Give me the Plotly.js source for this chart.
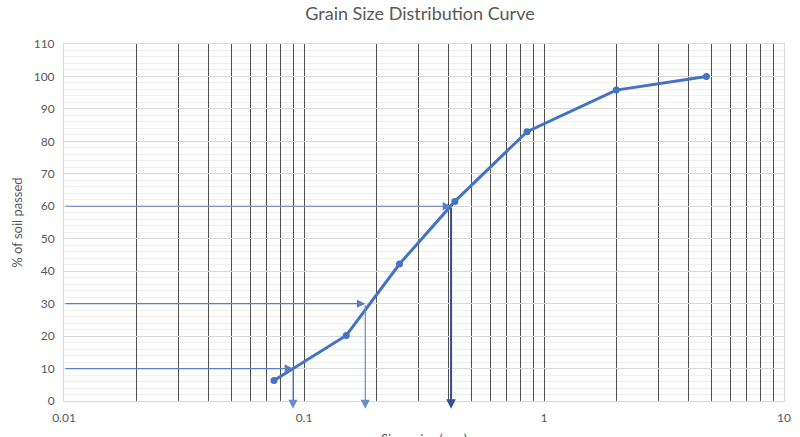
<!DOCTYPE html>
<html>
<head>
<meta charset="utf-8">
<script src="https://cdn.plot.ly/plotly-3.0.1.min.js"></script>
<style>html,body{margin:0;padding:0;background:#fff}#chart{width:800px;height:437px}</style>
</head>
<body>
<div id="chart"></div>
<script>
// Sieve sizes (mm) and % passing
const sieveSize = [0.075, 0.15, 0.25, 0.425, 0.85, 2, 4.75];
const percentPassed = [6.3, 20.2, 42.2, 61.5, 83, 95.8, 100];

// Characteristic diameters
const dLevels = [10, 30, 60];
const dValues = [0.09, 0.18, 0.41];
const dColors = ['#6a8cc8', '#6a8cc8', '#2f4f8f'];
const dWidths = [1.2, 1.2, 2];

// Axis ticks
const xGridVals = [0.01,0.02,0.03,0.04,0.05,0.06,0.07,0.08,0.09,0.1,0.2,0.3,0.4,0.5,0.6,0.7,0.8,0.9,1,2,3,4,5,6,7,8,9,10];
const xLabelMap = {0.01:'0.01', 0.1:'0.1', 1:'1', 10:'10'};
const xTickText = xGridVals.map(v => xLabelMap[v] || '');
const xTitle = 'Sieve size (mm)';

const xMin = 0.01;
const annotations = [];
dLevels.forEach((lvl, i) => {
  // horizontal arrow from y-axis to the curve
  annotations.push({
    x: Math.log10(dValues[i]), y: lvl, ax: Math.log10(xMin), ay: lvl,
    xref:'x', yref:'y', axref:'x', ayref:'y', text:'', showarrow:true,
    arrowhead:2, arrowsize:1.4, arrowwidth:1.2, arrowcolor:'#5b7fc4', standoff:0
  });
  // vertical arrow from the curve down past the axis
  annotations.push({
    x: Math.log10(dValues[i]), y: -2.4, ax: Math.log10(dValues[i]), ay: lvl,
    xref:'x', yref:'y', axref:'x', ayref:'y', text:'', showarrow:true,
    arrowhead:2, arrowsize: (i === 2 ? 0.95 : 1.5), arrowwidth:dWidths[i], arrowcolor:dColors[i], standoff:0
  });
});
// x-axis title, partly below the visible area as in the reference
annotations.push({
  text: xTitle, xref:'paper', yref:'paper', x:0.5, y:-0.079, xanchor:'center', yanchor:'top',
  showarrow:false, font:{size:13, color:'#595959'}
});

const traces = [{
  x: sieveSize, y: percentPassed, mode:'lines+markers',
  line:{color:'#4472c4', width:3}, marker:{color:'#4472c4', size:7},
  cliponaxis:false, showlegend:false
}];

const font = 'Lato, "Open Sans", sans-serif';
const layout = {
  width:800, height:437,
  margin:{l:64, r:16, t:44, b:36},
  paper_bgcolor:'#fff', plot_bgcolor:'#fff',
  font:{family:font, color:'#595959', size:12},
  title:{text:'Grain Size Distribution Curve', font:{family:font, size:18, color:'#595959'}, x:0.525, xanchor:'center', y:0.968, yanchor:'middle'},
  annotations: annotations,
  xaxis:{
    type:'log', range:[-2, 1],
    tickmode:'array', tickvals:xGridVals, ticktext:xTickText,
    showgrid:true, gridcolor:'#505050', gridwidth:1,
    showline:true, linecolor:'#d9d9d9', linewidth:1, mirror:true,
    zeroline:false, ticks:'', ticklabelstandoff:6,
    tickfont:{size:12, color:'#595959'}
  },
  yaxis:{
    range:[0, 110], dtick:10, tick0:0,
    showgrid:true, gridcolor:'#d9d9d9', gridwidth:1,
    minor:{dtick:2, showgrid:true, gridcolor:'#f0f0f0', gridwidth:1},
    showline:true, linecolor:'#d9d9d9', linewidth:1, mirror:true,
    zeroline:false, ticks:'', ticklabelstandoff:6,
    tickfont:{size:12, color:'#595959'},
    title:{text:'% of soil passed', font:{size:13, color:'#595959'}, standoff:8}
  }
};
Plotly.newPlot('chart', traces, layout, {displayModeBar:false, staticPlot:true});
</script>
</body>
</html>
